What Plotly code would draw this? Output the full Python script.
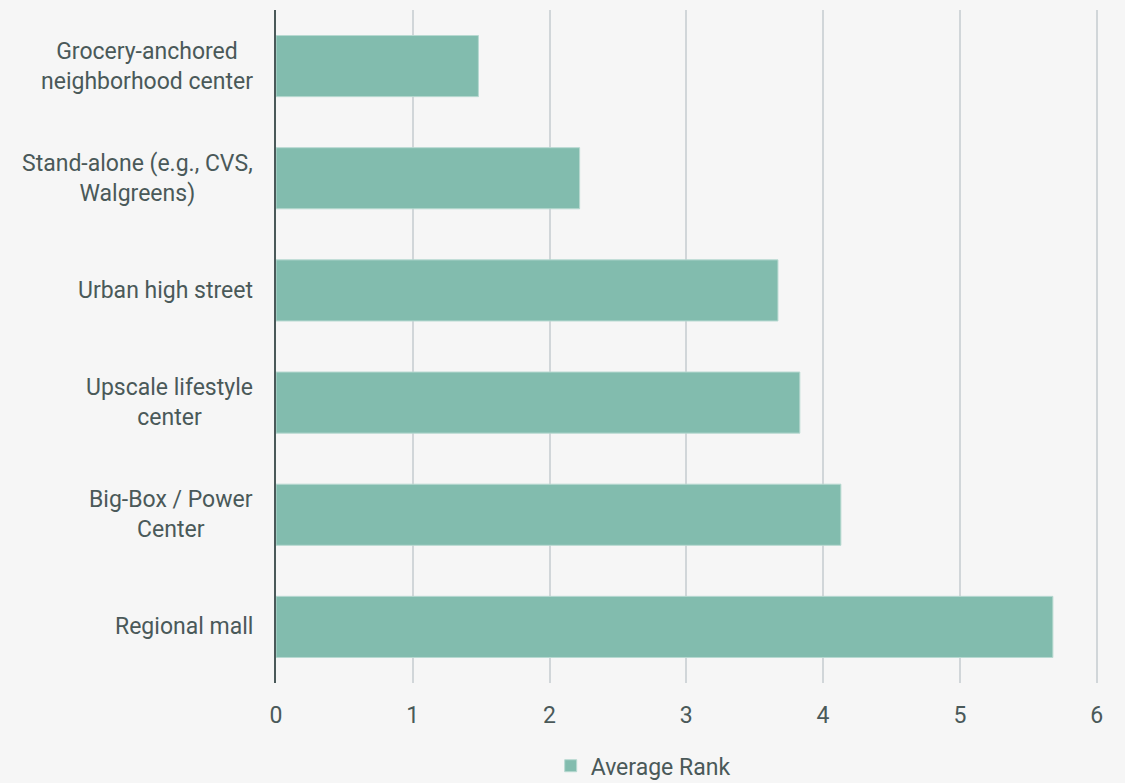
import plotly.graph_objects as go

categories = [
    "Grocery-anchored<br>neighborhood center",
    "Stand-alone (e.g., CVS,<br>Walgreens)",
    "Urban high street",
    "Upscale lifestyle<br>center",
    "Big-Box / Power<br>Center",
    "Regional mall",
]
values = [1.48, 2.22, 3.67, 3.83, 4.13, 5.68]
series_name = "Average Rank"
x_ticks = [0, 1, 2, 3, 4, 5, 6]

TEXT = "#4a5959"
BAR = "#82bcae"
BG = "#f6f6f6"
GRID = "#d1d6d9"
FS = 23

fig = go.Figure()
fig.add_trace(go.Bar(
    x=values,
    y=categories,
    orientation="h",
    name=series_name,
    marker=dict(color=BAR, line=dict(color="#b8d9d1", width=1)),
    showlegend=True,
))

# category labels: right-aligned block, lines centred (as in reference)
for cat in categories:
    fig.add_annotation(
        x=0, xref="paper", xanchor="right", xshift=-21,
        y=cat, yref="y", yanchor="middle",
        text=cat, align="center", showarrow=False,
        font=dict(size=FS, color=TEXT),
    )

fig.update_layout(
    width=1125,
    height=783,
    paper_bgcolor=BG,
    plot_bgcolor=BG,
    margin=dict(l=276, r=27, t=10, b=100, autoexpand=False),
    bargap=0.455,
    font=dict(family="Roboto, Noto Sans, sans-serif", size=FS, color=TEXT),
    xaxis=dict(
        range=[0, 6.01],
        tickvals=x_ticks,
        showgrid=True,
        gridcolor=GRID,
        gridwidth=2,
        zeroline=False,
        showline=False,
        ticks="",
        ticklabelstandoff=16,
        tickfont=dict(size=FS, color=TEXT),
        fixedrange=True,
        automargin=False,
    ),
    yaxis=dict(
        autorange="reversed",
        showline=True,
        linecolor="#4a5959",
        linewidth=2,
        showgrid=False,
        zeroline=False,
        ticks="",
        showticklabels=False,
        fixedrange=True,
        automargin=False,
    ),
    legend=dict(
        orientation="h",
        x=0.4467,
        xanchor="center",
        y=-0.123,
        yanchor="middle",
        font=dict(size=FS, color=TEXT),
        bgcolor="rgba(0,0,0,0)",
        itemwidth=30,
    ),
)

fig.write_html(
    "out.html",
    config={"displayModeBar": False},
    post_script="document.body.style.margin='0';document.body.style.background='#f6f6f6';",
)
